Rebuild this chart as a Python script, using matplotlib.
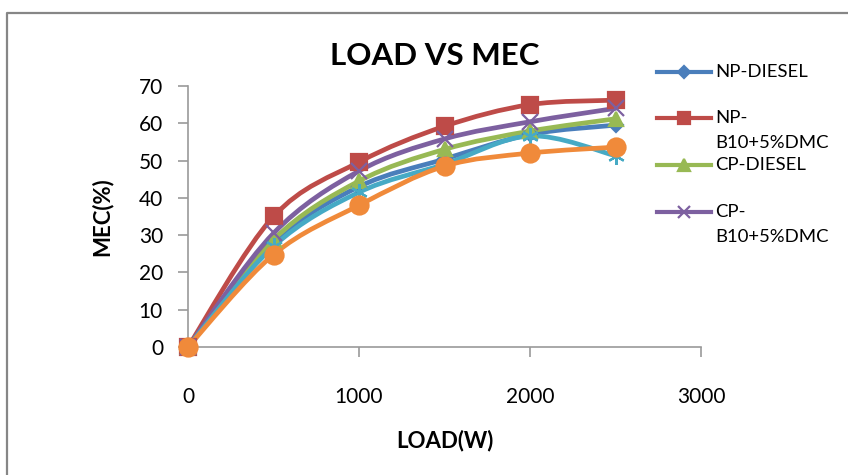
import numpy as np
import matplotlib
matplotlib.use("Agg")
import matplotlib.pyplot as plt
from matplotlib.path import Path
from matplotlib.patches import PathPatch
from matplotlib.lines import Line2D

plt.rcParams['font.family'] = ['Lato', 'DejaVu Sans']

# data
load = [0, 500, 1000, 1500, 2000, 2500]
np_diesel = [0, 28.0, 43.0, 50.4, 57.0, 59.5]
np_b10 = [0, 35.0, 49.6, 59.2, 65.0, 66.2]
cp_diesel = [0, 28.8, 44.5, 53.0, 57.9, 61.2]
cp_b10 = [0, 30.5, 47.2, 55.8, 60.4, 64.0]
extra_1 = [0, 27.0, 41.5, 49.0, 56.6, 51.3]
extra_2 = [0, 24.8, 38.0, 48.5, 52.0, 53.6]

series = [
    # values, legend label lines, colour, marker, marker size
    (np_diesel, ['NP-DIESEL'], '#4A7EBB', 'D', 7),
    (np_b10, ['NP-', 'B10+5%DMC'], '#BE4B48', 's', 11),
    (cp_diesel, ['CP-DIESEL'], '#98B954', '^', 10),
    (cp_b10, ['CP-', 'B10+5%DMC'], '#7D60A0', 'x', 11),
    (extra_1, None, '#46AAC5', (6, 2, 0), 12),
    (extra_2, None, '#F08A3A', 'o', 13),
]


def smooth_path(x, y):
    # excel style smoothed line: cubic bezier through every point
    pts = np.column_stack([x, y]).astype(float)
    verts = [pts[0]]
    codes = [Path.MOVETO]
    n = len(pts)
    for i in range(n - 1):
        p0 = pts[max(i - 1, 0)]
        p1 = pts[i]
        p2 = pts[i + 1]
        p3 = pts[min(i + 2, n - 1)]
        verts += [p1 + (p2 - p0) / 6, p2 - (p3 - p1) / 6, p2]
        codes += [Path.CURVE4] * 3
    return Path(verts, codes)


fig = plt.figure(figsize=(8.48, 4.75), dpi=100)
ax = fig.add_axes([0.2217, 0.2695, 0.605, 0.5495])

for vals, label, col, mk, ms in series:
    ax.add_patch(PathPatch(smooth_path(load, vals), fill=False,
                           edgecolor=col, lw=3.4, capstyle='round',
                           joinstyle='round', clip_on=False))
    ax.plot(load, vals, ls='none', marker=mk, ms=ms, color=col,
            mec=col, mew=1.6, clip_on=False)

ax.set_xlim(0, 3000)
ax.set_ylim(0, 70)
ax.set_xticks([0, 1000, 2000, 3000])
ax.set_yticks(range(0, 71, 10))
for sp in ['top', 'right']:
    ax.spines[sp].set_visible(False)
for sp in ['left', 'bottom']:
    ax.spines[sp].set_color('#9A9A9A')
    ax.spines[sp].set_linewidth(1.2)
    ax.spines[sp].set_zorder(0.5)
ax.tick_params(axis='both', colors='#9A9A9A', labelcolor='black',
               labelsize=15, length=7, width=1.2)
ax.tick_params(axis='x', pad=22)
ax.tick_params(axis='y', pad=11)

fig.text(0.513, 0.882, 'LOAD VS MEC', ha='center', va='center',
         fontsize=22.5, fontweight='bold')
fig.text(0.525, 0.073, 'LOAD(W)', ha='center', va='center',
         fontsize=16, fontweight='bold')
fig.text(0.120, 0.543, 'MEC(%)', ha='center', va='center',
         fontsize=16, fontweight='bold', rotation=90)

# legend, drawn by hand so the handle sits on the first text line
leg_y = [72, 118, 165, 212]
for (vals, label, col, mk, ms), yy in zip(series[:4], leg_y):
    yf = 1 - yy / 475
    fig.add_artist(Line2D([657 / 848, 711 / 848], [yf, yf], color=col,
                          lw=3, transform=fig.transFigure))
    fig.add_artist(Line2D([684 / 848], [yf], color=col, marker=mk,
                          ms=ms * 0.85, mew=1.6, ls='none',
                          transform=fig.transFigure))
    for k, line in enumerate(label):
        fig.text(715 / 848, 1 - (yy + 25 * k) / 475, line, ha='left',
                 va='center', fontsize=13.3)

# frame of the chart area (only left and top show)
fig.add_artist(Line2D([6.5 / 848, 6.5 / 848, 1], [0, 1 - 12.5 / 475, 1 - 12.5 / 475],
                      color='#868686', lw=1.6, transform=fig.transFigure))

fig.savefig('out.png', dpi=100)
